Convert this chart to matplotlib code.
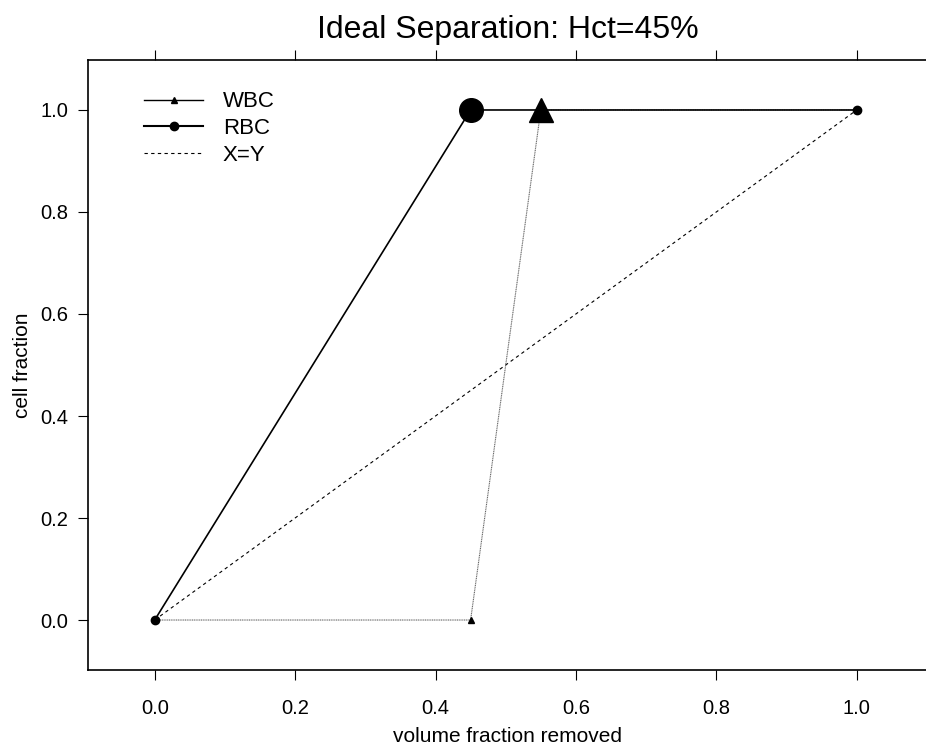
import matplotlib
matplotlib.use("Agg")
import matplotlib.pyplot as plt
from matplotlib.lines import Line2D

plt.rcParams['font.family'] = ['Liberation Sans', 'DejaVu Sans']

# data
wbc_x = [0.0, 0.45, 0.55, 1.0]
wbc_y = [0.0, 0.0, 1.0, 1.0]
wbc_marker_size = [0, 4, 17, 0]
rbc_x = [0.0, 0.45, 1.0]
rbc_y = [0.0, 1.0, 1.0]
rbc_marker_size = [6, 17, 6]
xy_x = [0.0, 1.0]
xy_y = [0.0, 1.0]
xticks = [0.0, 0.2, 0.4, 0.6, 0.8, 1.0]
yticks = [0.0, 0.2, 0.4, 0.6, 0.8, 1.0]

fig = plt.figure(figsize=(9.26, 7.48), dpi=100)
ax = fig.add_axes([88/926, 78/748, 1 - 88/926 + 0.001, (670-60)/748])

ax.plot(xy_x, xy_y, color='black', lw=0.8, ls=(0, (3, 3)))
ax.plot(wbc_x, wbc_y, color='#666666', lw=0.8, ls=(0, (1, 0.6)))
ax.plot(rbc_x, rbc_y, color='black', lw=1.2)
for x, y, s in zip(wbc_x, wbc_y, wbc_marker_size):
    if s > 0:
        ax.plot([x], [y], marker='^', ms=s, color='black', ls='none')
for x, y, s in zip(rbc_x, rbc_y, rbc_marker_size):
    if s > 0:
        ax.plot([x], [y], marker='o', ms=s, color='black', ls='none')

ax.set_xlim(-0.095, 1.1)
ax.set_ylim(-0.098, 1.098)
ax.set_xticks(xticks)
ax.set_yticks(yticks)
ax.set_xticklabels([f"{v:.1f}" for v in xticks])
ax.set_yticklabels([f"{v:.1f}" for v in yticks])
ax.tick_params(axis='both', direction='out', length=7, width=0.8, labelsize=14.5)
ax.tick_params(axis='x', pad=14, top=True, labeltop=False)
ax.tick_params(axis='y', pad=7)
for side in ['left', 'bottom', 'top']:
    ax.spines[side].set_linewidth(1.2)
ax.spines['right'].set_visible(False)

ax.set_xlabel('volume fraction removed', fontsize=15, labelpad=6)
ax.set_ylabel('cell fraction', fontsize=15, labelpad=6)
ax.set_title('Ideal Separation: Hct=45%', fontsize=23, pad=15.5)

handles = [
    Line2D([], [], color='black', lw=1.0, marker='^', ms=4),
    Line2D([], [], color='black', lw=1.5, marker='o', ms=6),
    Line2D([], [], color='black', lw=0.8, ls=(0, (3, 3))),
]
ax.legend(handles, ['WBC', 'RBC', 'X=Y'], loc='upper left', frameon=False,
          fontsize=16, handlelength=2.65, handletextpad=0.9, labelspacing=0.25,
          borderpad=0, borderaxespad=0,
          bbox_to_anchor=((144-88)/838, 0.9485))

fig.savefig('out.png', dpi=100)
